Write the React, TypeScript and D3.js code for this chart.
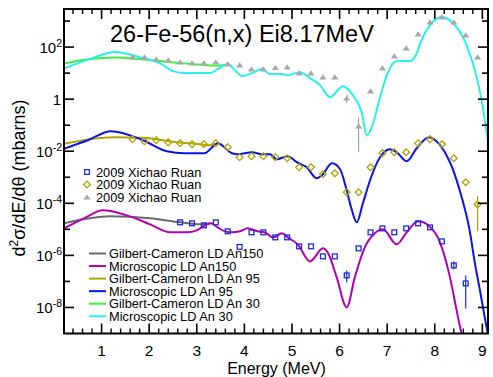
import * as d3 from 'd3';

// ---- model curves (energy in MeV, cross section in mbarns) ----
const gcAn30E = [0.21, 0.75, 1.28, 1.8, 2.22, 2.65, 3.07, 3.38, 3.59, 3.65];
const gcAn30V = [23.2, 34.5, 39.5, 34.5, 28.9, 24.2, 21.2, 19.4, 20.3, 22.2];

const msAn30E = [0.21, 0.75, 1.28, 1.8, 2.22, 2.5, 2.75, 3.07, 3.28, 3.44, 3.65, 3.82, 3.95, 4.16, 4.37, 4.54, 4.79, 4.91, 5.17, 5.38, 5.59, 5.8, 6.07, 6.28, 6.47, 6.57, 6.68, 6.85, 7.01, 7.2, 7.48, 7.58, 7.75, 7.96, 8.15, 8.38, 8.67, 8.88, 9.01, 9.12];
const msAn30V = [14.9, 34.5, 64.2, 41.2, 24.2, 11.9, 10, 10, 10, 14.3, 22.2, 11.9, 7.67, 10, 14.3, 9.16, 9.16, 8.38, 10.9, 6.42, 3.45, 1.19, 3.16, 1.43, 0.29, 0.0412, 0.0838, 1.19, 10, 28.9, 28.9, 41.2, 243, 915, 1425, 838, 119, 7.02, 0.492, 0.0203];

const gcAn95E = [0.21, 0.75, 1.28, 1.87, 2.58, 3.07, 3.28, 3.44];
const gcAn95V = [0.0194, 0.029, 0.0345, 0.0331, 0.0222, 0.0186, 0.017, 0.0203];

const msAn95E = [0.21, 0.71, 1.2, 1.87, 2.37, 2.75, 3.17, 3.28, 3.44, 3.74, 3.86, 4.16, 4.37, 4.54, 4.68, 4.91, 5.1, 5.31, 5.52, 5.63, 5.84, 6.01, 6.15, 6.26, 6.36, 6.49, 6.64, 6.85, 7.06, 7.2, 7.41, 7.62, 7.88, 8.11, 8.32, 8.53, 8.74, 8.84, 8.95, 9.05, 9.12];
const msAn95V = [0.0125, 0.0265, 0.0588, 0.0265, 0.01, 0.00838, 0.00838, 0.0119, 0.0203, 0.00838, 0.00767, 0.00915, 0.00767, 0.00767, 0.00492, 0.00643, 0.00378, 0.00243, 0.000915, 0.00119, 0.00345, 0.00203, 0.000316, 5.38e-5, 1.86e-5, 1e-4, 0.000767, 0.00588, 0.0119, 0.00915, 0.00412, 0.013, 0.0345, 0.017, 0.00378, 0.00029, 7.67e-6, 5.38e-7, 4.5e-8, 4.12e-9, 9e-10];

const gcAn150E = [0.21, 0.75, 1.17, 2.02, 2.65, 3.07, 3.3];
const gcAn150V = [1.7e-5, 2.65e-5, 3.16e-5, 2.65e-5, 1.86e-5, 1.56e-5, 1.7e-5];

const msAn150E = [0.21, 0.63, 1.03, 1.53, 2.02, 2.44, 2.79, 3.0, 3.13, 3.3, 3.44, 3.59, 3.74, 3.91, 4.07, 4.28, 4.43, 4.6, 4.79, 4.91, 5.12, 5.38, 5.65, 5.75, 5.94, 6.15, 6.32, 6.53, 6.74, 6.91, 7.2, 7.41, 7.65, 7.86, 8.11, 8.32, 8.46, 8.57, 8.65];
const msAn150V = [1.09e-5, 2.65e-5, 5.38e-5, 3.45e-5, 1.56e-5, 7.67e-6, 7.67e-6, 9.15e-6, 1.3e-5, 1.7e-5, 1.19e-5, 8.38e-6, 7.67e-6, 8.38e-6, 1.09e-5, 8.38e-6, 7.67e-6, 4.92e-6, 7.02e-6, 4.92e-6, 2.65e-6, 5.88e-7, 1.86e-6, 1.3e-6, 1.43e-7, 1e-8, 1.43e-7, 2.03e-6, 7.02e-6, 1e-5, 2.65e-6, 7.67e-6, 2.03e-5, 1.43e-5, 3.16e-6, 1.43e-7, 7.67e-9, 9e-10, 3e-10];

// ---- measured data, 2009 Xichao Ruan ----
const triE = [1.65, 1.9, 2.15, 2.4, 2.65, 2.9, 3.15, 3.4, 3.65, 3.9, 4.15, 4.4, 4.65, 4.9, 5.15, 5.4, 5.65, 5.9, 6.15, 6.4, 6.65, 6.9, 7.15, 7.4, 7.65, 7.9, 8.15, 8.4, 8.65, 8.9, 9.15];
const triV = [41.2, 41.2, 34.5, 31.6, 26.5, 24.2, 24.2, 26.5, 22.2, 20.3, 14.3, 14.3, 16.3, 17, 10, 10, 7.0, 7.0, 1.09, 0.092, 2.03, 15.6, 45, 91.6, 316, 915, 1425, 915, 290, 41.2, 2.9];
const triErr: [number, number, number][] = [[6.15, 0.7, 1.43], [6.4, 0.0091, 0.203]];

const diaE = [1.65, 1.9, 2.15, 2.4, 2.65, 2.9, 3.15, 3.4, 3.65, 3.9, 4.15, 4.4, 4.65, 4.9, 5.15, 5.4, 5.65, 5.9, 6.15, 6.4, 6.65, 6.9, 7.15, 7.4, 7.65, 7.9, 8.15, 8.4, 8.65, 8.9];
const diaV = [0.029, 0.0243, 0.0265, 0.0222, 0.0203, 0.0186, 0.0186, 0.0203, 0.0143, 0.00588, 0.00643, 0.00643, 0.00588, 0.00538, 0.00243, 0.00243, 0.0013, 0.00143, 0.000265, 0.000265, 0.00243, 0.00838, 0.00915, 0.00915, 0.0203, 0.029, 0.0186, 0.00538, 0.000643, 9.15e-5];
const diaErr: [number, number, number][] = [[8.9, 8.4e-6, 1.86e-4]];

const sqE = [2.65, 2.9, 3.15, 3.4, 3.65, 3.9, 4.15, 4.4, 4.65, 4.9, 5.15, 5.4, 5.65, 5.9, 6.15, 6.4, 6.65, 6.9, 7.15, 7.4, 7.65, 7.9, 8.15, 8.4, 8.65];
const sqV = [1.86e-5, 1.7e-5, 1.43e-5, 1.86e-5, 8.4e-6, 2.12e-6, 7.67e-6, 7.67e-6, 4.92e-6, 4.92e-6, 2.22e-6, 2.22e-6, 9.15e-7, 9.15e-7, 1.7e-7, 1.86e-6, 7.67e-6, 1.09e-5, 7.67e-6, 1.09e-5, 1.7e-5, 1.19e-5, 3.45e-6, 4.12e-7, 8.4e-8];
const sqErr: [number, number, number][] = [[6.15, 9.15e-8, 2.65e-7], [8.4, 2.9e-7, 5.88e-7], [8.65, 9.15e-9, 1.7e-7]];

const xTickLabels = [1, 2, 3, 4, 5, 6, 7, 8, 9];
const yLabelExps = [2, 0, -2, -4, -6, -8];

const curveLegend = [
  { label: 'Gilbert-Cameron LD An150', color: '#6a6a6a' },
  { label: 'Microscopic LD An150', color: '#b400b4' },
  { label: 'Gilbert-Cameron LD An 95', color: '#b4a400' },
  { label: 'Microscopic LD An 95', color: '#0a14e6' },
  { label: 'Gilbert-Cameron LD An 30', color: '#3cf03c' },
  { label: 'Microscopic LD An 30', color: '#28f0f0' },
];

const FONT = "'Liberation Sans', Arial, Helvetica, sans-serif";
const TRI = '#a8a8a8';
const DIA = '#b0a400';
const SQ = '#1c2ad2';

export default function App() {
  const width = 493;
  const height = 377;
  const left = 64;
  const right = 488;
  const top = 9;
  const bottom = 333.5;

  const x = d3.scaleLinear().domain([0.2, 9.11]).range([63.5, 487.6]);
  const y = d3.scaleLog().domain([1e-9, 2900]).range([bottom, top]);

  const line = (es: number[], vs: number[]) =>
    d3
      .line<number>()
      .x((e) => x(e))
      .y((_, i) => y(vs[i]))
      .curve(d3.curveMonotoneX)(es) ?? '';

  const curves = [
    { es: gcAn150E, vs: gcAn150V, color: curveLegend[0].color },
    { es: msAn150E, vs: msAn150V, color: curveLegend[1].color },
    { es: gcAn95E, vs: gcAn95V, color: curveLegend[2].color },
    { es: msAn95E, vs: msAn95V, color: curveLegend[3].color },
    { es: gcAn30E, vs: gcAn30V, color: curveLegend[4].color },
    { es: msAn30E, vs: msAn30V, color: curveLegend[5].color },
  ];

  const minorX = d3.range(0.4, 9.11, 0.2).filter((v) => Math.abs(v - Math.round(v)) > 0.01);
  const decades = d3.range(-8, 4);

  const errBars = (errs: [number, number, number][], color: string) =>
    errs.map(([e, lo, hi], i) => (
      <line key={i} x1={x(e)} x2={x(e)} y1={y(lo)} y2={y(hi)} stroke={color} strokeWidth={1.2} />
    ));

  const tri = (cx: number, cy: number, k: number | string) => (
    <path key={k} d={`M${cx - 3.6},${cy + 2.4}L${cx + 3.6},${cy + 2.4}L${cx},${cy - 2.8}Z`} fill={TRI} />
  );
  const dia = (cx: number, cy: number, k: number | string) => (
    <path key={k} d={`M${cx},${cy - 3.4}L${cx + 3.4},${cy}L${cx},${cy + 3.4}L${cx - 3.4},${cy}Z`} fill="none" stroke={DIA} strokeWidth={1.3} />
  );
  const sq = (cx: number, cy: number, k: number | string) => (
    <rect key={k} x={cx - 2.4} y={cy - 2.4} width={4.8} height={4.8} fill="none" stroke={SQ} strokeWidth={1.3} />
  );

  return (
    <svg width={width} height={height} style={{ position: 'absolute', left: 0, top: 0 }} fontFamily={FONT}>
      <rect width={width} height={height} fill="#fff" />
      <defs>
        <clipPath id="plot">
          <rect x={left} y={top} width={right - left} height={bottom - top} />
        </clipPath>
      </defs>

      <g clipPath="url(#plot)">
        {curves.map((c, i) => (
          <path key={i} d={line(c.es, c.vs)} fill="none" stroke={c.color} strokeWidth={2} strokeLinejoin="round" />
        ))}
        {errBars(triErr, TRI)}
        {errBars(diaErr, DIA)}
        {errBars(sqErr, SQ)}
        {triE.map((e, i) => tri(x(e), y(triV[i]), i))}
        {diaE.map((e, i) => dia(x(e), y(diaV[i]), i))}
        {sqE.map((e, i) => sq(x(e), y(sqV[i]), i))}
      </g>

      {/* frame */}
      <rect x={left} y={top} width={right - left} height={bottom - top} fill="none" stroke="#000" strokeWidth={2} />

      {/* x ticks */}
      {xTickLabels.map((t) => (
        <g key={t}>
          <line x1={x(t)} x2={x(t)} y1={bottom} y2={bottom - 10} stroke="#000" strokeWidth={1.6} />
          <line x1={x(t)} x2={x(t)} y1={top} y2={top + 10} stroke="#000" strokeWidth={1.6} />
          <text x={x(t)} y={355.5} textAnchor="middle" fontSize={15.5}>{t}</text>
        </g>
      ))}
      {minorX.map((t, i) => (
        <g key={i}>
          <line x1={x(t)} x2={x(t)} y1={bottom} y2={bottom - 5} stroke="#000" strokeWidth={1.4} />
          <line x1={x(t)} x2={x(t)} y1={top} y2={top + 5} stroke="#000" strokeWidth={1.4} />
        </g>
      ))}

      {/* y ticks */}
      {decades.map((d) => {
        const major = d % 2 === 0;
        const len = major ? 10 : 6;
        const yy = y(Math.pow(10, d));
        return (
          <g key={d}>
            <line x1={left} x2={left + len} y1={yy} y2={yy} stroke="#000" strokeWidth={1.6} />
            <line x1={right} x2={right - len} y1={yy} y2={yy} stroke="#000" strokeWidth={1.6} />
          </g>
        );
      })}
      {yLabelExps.map((d) => {
        const yy = y(Math.pow(10, d));
        return d === 0 ? (
          <text key={d} x={61} y={yy + 5.5} textAnchor="end" fontSize={15}>1</text>
        ) : (
          <text key={d} x={62} y={yy + 5.5} textAnchor="end" fontSize={15}>
            10<tspan dy={-6} fontSize={10.5}>{d < 0 ? `-${-d}` : d}</tspan>
          </text>
        );
      })}

      {/* titles */}
      <text x={110} y={42} fontSize={23.5}>26-Fe-56(n,x) Ei8.17MeV</text>
      <text x={276.5} y={373.5} textAnchor="middle" fontSize={16}>Energy (MeV)</text>
      <text transform="translate(25,178) rotate(-90)" textAnchor="middle" fontSize={18}>
        d<tspan dy={-7} fontSize={12}>2</tspan><tspan dy={7}>σ/dE/dθ (mbarns)</tspan>
      </text>

      {/* data legend */}
      {sq(87, 172, 'ls')}
      {dia(87, 184.5, 'ld')}
      {tri(87, 197, 'lt')}
      {[172, 184.5, 197].map((ly, i) => (
        <text key={i} x={96} y={ly + 4.5} fontSize={12.8}>2009 Xichao Ruan</text>
      ))}

      {/* curve legend */}
      {curveLegend.map((c, i) => {
        const ly = 253.5 + i * 12.55;
        return (
          <g key={i}>
            <line x1={89} x2={106} y1={ly} y2={ly} stroke={c.color} strokeWidth={2} />
            <text x={109} y={ly + 4.5} fontSize={12.8}>{c.label}</text>
          </g>
        );
      })}
    </svg>
  );
}
